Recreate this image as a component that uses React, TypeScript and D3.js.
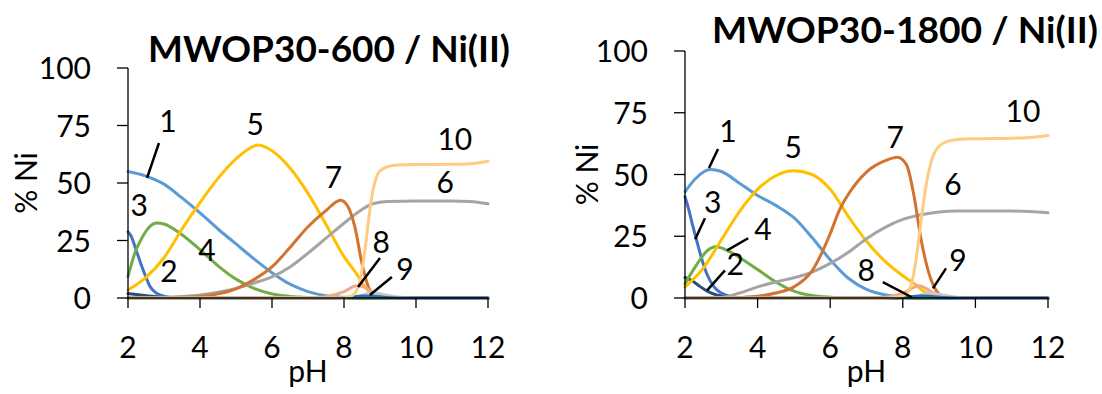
import React from 'react';
import * as d3 from 'd3';

type Pt = [number, number];

// ---- MWOP30-600 / Ni(II) ----
const left1: Pt[] = [[2, 55], [2.5, 53], [3, 49.5], [3.5, 43.5], [4, 37], [4.5, 30], [5, 23.5], [5.5, 17], [6, 11], [6.5, 6], [7, 2.8], [7.5, 1], [8, 0.3], [8.5, 0], [12, 0]];
const left2: Pt[] = [[2, 2], [2.4, 1.2], [2.8, 0.5], [3.2, 0.1], [3.6, 0], [12, 0]];
const left3: Pt[] = [[2, 28.8], [2.1, 26.5], [2.2, 22], [2.3, 17.5], [2.4, 13], [2.5, 9], [2.6, 5.3], [2.75, 2.6], [2.9, 1.2], [3.1, 0.4], [3.4, 0], [12, 0]];
const left4: Pt[] = [[2, 9.3], [2.2, 20], [2.4, 26.5], [2.6, 31], [2.8, 32.6], [3, 32.2], [3.5, 27.5], [4, 21], [4.5, 14], [5, 8.2], [5.5, 4.2], [6, 1.8], [6.5, 0.7], [7, 0.2], [7.5, 0], [12, 0]];
const left5: Pt[] = [[2, 3.5], [2.5, 9], [3, 17.5], [3.5, 30], [4, 41.5], [4.5, 52], [5, 60.5], [5.5, 66], [5.6, 66.5], [6, 64], [6.5, 56.5], [7, 45.5], [7.5, 32], [8, 18], [8.35, 10.5], [8.6, 4.5], [8.8, 1.5], [9, 0.3], [9.5, 0], [12, 0]];
const left6: Pt[] = [[2, 0], [3, 0.2], [3.5, 0.6], [4, 1.3], [4.5, 2.5], [5, 4.2], [5.5, 6.5], [6, 9.2], [6.5, 13.5], [7, 19.5], [7.5, 26], [8, 32.5], [8.5, 38.5], [8.8, 41], [9.2, 42], [10, 42.2], [11, 42.2], [11.5, 42], [12, 41]];
const left7: Pt[] = [[2, 0], [3, 0], [3.5, 0.2], [4, 0.7], [4.5, 1.8], [5, 4], [5.5, 8], [6, 13.5], [6.5, 22], [7, 31], [7.5, 38], [7.9, 42.5], [8.1, 40], [8.3, 31], [8.5, 15], [8.7, 4], [8.9, 1], [9.2, 0.2], [9.6, 0], [12, 0]];
const left8: Pt[] = [[2, 0], [7, 0], [7.5, 0.6], [8, 2.8], [8.35, 5.3], [8.6, 4.5], [8.8, 2.2], [9, 0.7], [9.4, 0], [12, 0]];
const left9: Pt[] = [[2, 0], [8, 0], [8.4, 0.8], [8.8, 2.3], [9.1, 1.5], [9.5, 0.4], [10, 0], [12, 0]];
const leftBump: Pt[] = [[2, 0], [7.8, 0], [8.2, 0.4], [8.5, 0.9], [8.8, 0.8], [9.1, 0.3], [9.5, 0], [12, 0]];
const left10: Pt[] = [[2, 0], [8, 0.1], [8.2, 0.8], [8.4, 5], [8.5, 12], [8.6, 23], [8.7, 36], [8.8, 46.5], [8.9, 52.5], [9, 55.3], [9.2, 57], [9.5, 57.8], [10, 58], [11, 58.1], [11.5, 58.4], [12, 59.5]];

// ---- MWOP30-1800 / Ni(II) ----
const right1: Pt[] = [[2, 43], [2.3, 48.5], [2.7, 52], [3, 51.2], [3.5, 46.5], [4, 41.5], [4.5, 37.5], [5, 32.5], [5.5, 24.5], [6, 15.5], [6.5, 8], [7, 3.5], [7.5, 1.3], [8, 0.4], [8.5, 0], [12, 0]];
const right2: Pt[] = [[2, 8.3], [2.2, 7], [2.4, 4.8], [2.6, 2.9], [2.8, 1.6], [3, 0.8], [3.3, 0.2], [3.6, 0], [12, 0]];
const right3: Pt[] = [[2, 41], [2.1, 36], [2.2, 30], [2.3, 24.5], [2.4, 19], [2.5, 14], [2.6, 9.8], [2.8, 4.5], [3, 2], [3.3, 0.5], [3.6, 0], [12, 0]];
const right4: Pt[] = [[2, 5.8], [2.3, 13], [2.6, 19], [2.85, 20.7], [3.2, 19], [3.6, 15.5], [4, 11.5], [4.5, 6.5], [5, 2.8], [5.5, 1], [6, 0.3], [6.5, 0], [12, 0]];
const right5: Pt[] = [[2, 4.5], [2.5, 12], [3, 23.5], [3.5, 35], [4, 44], [4.5, 49.5], [5, 51.5], [5.5, 50], [6, 44], [6.5, 33], [7, 23], [7.5, 15], [8, 9], [8.3, 6], [8.6, 2.5], [9, 0.5], [9.5, 0], [12, 0]];
const right6: Pt[] = [[2, 0], [3, 0.2], [3.5, 2], [4, 4.5], [4.5, 6.5], [5, 8.2], [5.5, 10.5], [6, 14], [6.5, 18.5], [7, 24], [7.5, 28.5], [8, 31.8], [8.5, 33.7], [9, 34.8], [9.5, 35.2], [10, 35.2], [11, 35.2], [11.5, 35], [12, 34.5]];
const right7: Pt[] = [[2, 0], [3, 0], [3.5, 0.2], [4, 0.7], [4.5, 2], [5, 4.5], [5.5, 11], [6, 26], [6.25, 35.5], [6.5, 42], [7, 51], [7.5, 55.5], [7.85, 57], [8.1, 54], [8.3, 42], [8.5, 24], [8.7, 11], [8.9, 3.5], [9.1, 0.8], [9.5, 0], [12, 0]];
const right8: Pt[] = [[2, 0], [7, 0], [7.5, 0.3], [8, 2], [8.45, 5], [8.8, 2.5], [9.1, 0.5], [9.5, 0], [12, 0]];
const right9: Pt[] = [[2, 0], [8, 0], [8.4, 0.8], [8.75, 2], [9.1, 1.2], [9.5, 0.3], [10, 0], [12, 0]];
const rightBump: Pt[] = [[2, 0], [7.8, 0], [8.2, 0.4], [8.5, 0.8], [8.8, 0.6], [9.1, 0.2], [9.5, 0], [12, 0]];
const right10: Pt[] = [[2, 0], [7.5, 0], [8, 0.8], [8.2, 4], [8.35, 14], [8.5, 31], [8.65, 46.5], [8.8, 56], [9, 61.5], [9.3, 63.7], [9.6, 64.3], [10, 64.5], [11, 64.7], [11.5, 65], [12, 65.8]];

const xTicks = [2, 4, 6, 8, 10, 12];
const yTicks = [0, 25, 50, 75, 100];

// series colours, same order in both panels
const colors = ['#5B9BD5', '#22507F', '#4472C4', '#70AD47', '#FFC000', '#A5A5A5', '#D4722F', '#F0A98A', '#C9C9C9', '#2E6DB4', '#FFCB82'];

// curve number labels: [text, pH, %] (text baseline)
const leftLabels: [string, number, number][] = [
  ['1', 3.11, 72], ['3', 2.31, 35.7], ['2', 3.14, 7], ['4', 4.19, 16.1], ['5', 5.53, 70.9],
  ['7', 7.71, 47.8], ['10', 11.08, 64.3], ['6', 10.81, 45.7], ['8', 9.03, 19.6], ['9', 9.69, 7.8],
];
const rightLabels: [string, number, number][] = [
  ['1', 3.18, 63.1], ['3', 2.76, 34.3], ['4', 4.15, 23.4], ['2', 3.38, 9.2], ['5', 4.98, 56.6],
  ['7', 7.79, 60.7], ['10', 11.31, 71.2], ['6', 9.38, 41.6], ['8', 6.99, 6.8], ['9', 9.52, 10.8],
];
// leader lines: [pH1, %1, pH2, %2]
const leftLeaders: number[][] = [[2.86, 67.4, 2.53, 52.2], [9.0, 17.4, 8.39, 4.8], [9.33, 9.1, 8.72, 1.3]];
const rightLeaders: number[][] = [
  [2.91, 60.3, 2.66, 52.6], [2.55, 32.3, 2.28, 23.8], [3.74, 24.2, 3.16, 19.3],
  [3.1, 11.2, 2.61, 3.1], [7.45, 6.4, 8.25, 0.3], [9.19, 12, 8.83, 3.9],
];

const FONT = 'Lato, "Open Sans", sans-serif';

type PanelProps = {
  title: string;
  series: Pt[][];
  labels: [string, number, number][];
  leaders: number[][];
  x0: number; x1: number; yTop: number; yBottom: number;
  titleX: number; titleY: number; titleW: number;
  yTitleX: number;
};

const Panel = (p: PanelProps) => {
  const x = d3.scaleLinear().domain([2, 12]).range([p.x0, p.x1]);
  const y = d3.scaleLinear().domain([0, 100]).range([p.yBottom, p.yTop]);
  const line = d3.line<Pt>().x((d) => x(d[0])).y((d) => y(d[1])).curve(d3.curveMonotoneX);
  const midX = (p.x0 + p.x1) / 2;
  const midY = (p.yTop + p.yBottom) / 2;
  return (
    <g>
      {p.series.map((s, i) => (
        <path key={i} d={line(s) || ''} fill="none" stroke={colors[i]} strokeWidth={3} strokeLinejoin="round" strokeLinecap="round" />
      ))}
      {/* axes */}
      <line x1={p.x0} x2={p.x0} y1={y(0)} y2={y(100)} stroke="#000" strokeWidth={1.3} />
      <line x1={p.x0} x2={p.x1} y1={y(0)} y2={y(0)} stroke="#000" strokeWidth={1.3} />
      {yTicks.map((t) => (
        <g key={'y' + t}>
          <line x1={p.x0 - 11} x2={p.x0} y1={y(t)} y2={y(t)} stroke="#000" strokeWidth={1.3} />
          <text x={p.x0 - 37} y={y(t) + 11} textAnchor="end" fontSize={30} fontFamily={FONT}>{t}</text>
        </g>
      ))}
      {xTicks.map((t) => (
        <g key={'x' + t}>
          <line x1={x(t)} x2={x(t)} y1={y(0)} y2={y(0) + 10} stroke="#000" strokeWidth={1.3} />
          <text x={x(t)} y={358} textAnchor="middle" fontSize={30} fontFamily={FONT}>{t}</text>
        </g>
      ))}
      <text x={midX} y={382} textAnchor="middle" fontSize={30} fontFamily={FONT}>pH</text>
      <text transform={`translate(${p.yTitleX},${midY}) rotate(-90)`} textAnchor="middle" fontSize={30} fontFamily={FONT}>% Ni</text>
      {p.leaders.map((l, i) => (
        <line key={'l' + i} x1={x(l[0])} y1={y(l[1])} x2={x(l[2])} y2={y(l[3])} stroke="#000" strokeWidth={2.5} />
      ))}
      {p.labels.map(([t, ph, v]) => (
        <text key={'t' + t} x={x(ph)} y={y(v)} textAnchor="middle" fontSize={30} fontFamily={FONT}>{t}</text>
      ))}
      <text x={p.titleX} y={p.titleY} fontSize={36} fontWeight="bold" fontFamily={FONT} textLength={p.titleW} lengthAdjust="spacingAndGlyphs">{p.title}</text>
    </g>
  );
};

export default function App() {
  return (
    <svg width={1102} height={394} style={{ position: 'absolute', left: 0, top: 0, background: '#fff' }}>
      <rect width={1102} height={394} fill="#fff" />
      <Panel
        title="MWOP30-600 / Ni(II)"
        series={[left1, left2, left3, left4, left5, left6, left7, left8, left9, leftBump, left10]}
        labels={leftLabels}
        leaders={leftLeaders}
        x0={128} x1={488} yTop={68} yBottom={298}
        titleX={148} titleY={62} titleW={362}
        yTitleX={37}
      />
      <Panel
        title="MWOP30-1800 / Ni(II)"
        series={[right1, right2, right3, right4, right5, right6, right7, right8, right9, rightBump, right10]}
        labels={rightLabels}
        leaders={rightLeaders}
        x0={685} x1={1048} yTop={51} yBottom={298}
        titleX={712} titleY={43} titleW={386}
        yTitleX={598}
      />
    </svg>
  );
}
